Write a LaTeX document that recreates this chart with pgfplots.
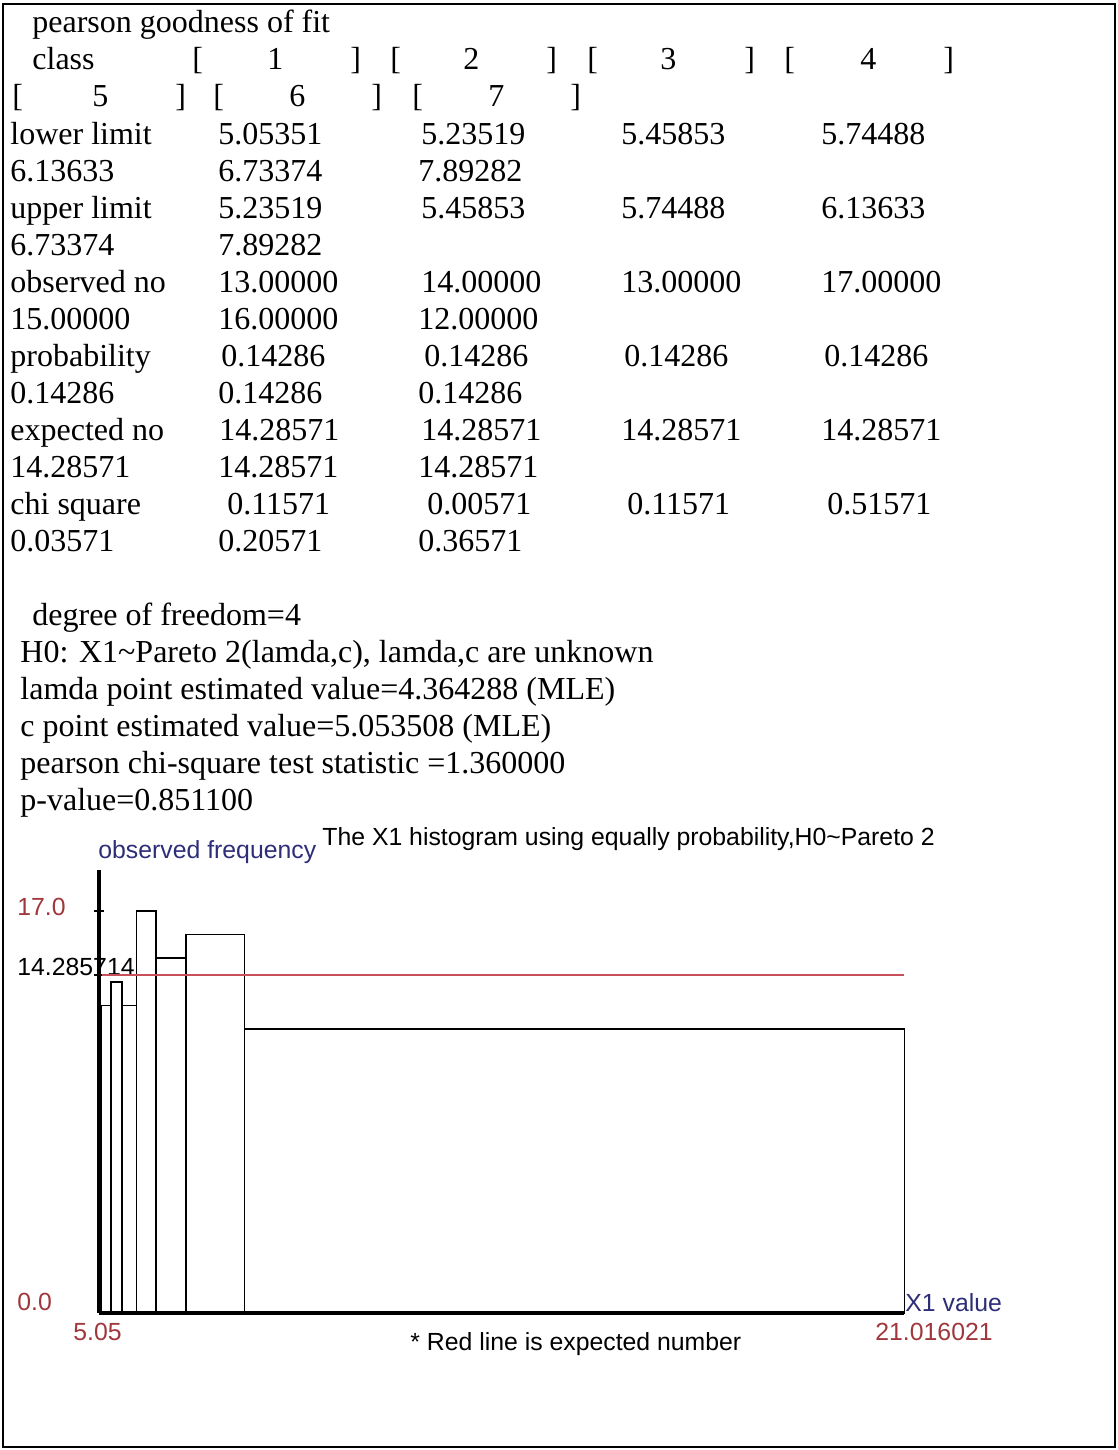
\documentclass[border=0pt]{standalone}
\usepackage{fontspec}
\setmainfont{Liberation Serif}
\newfontfamily\sansf{Liberation Sans}
\usepackage{pgfplots}
\pgfplotsset{compat=1.18}
\definecolor{navytxt}{RGB}{45,45,120}
\definecolor{darkredtxt}{RGB}{160,55,60}
\definecolor{expred}{RGB}{200,80,90}
\newcommand{\T}[3]{\node[anchor=base west, inner sep=0pt] at (#1,#2) {#3};}
\begin{document}
\begin{tikzpicture}
\begin{scope}[x=0.5pt,y=-0.5pt]
\path (0,0) rectangle (1118,1450);
\draw[line width=1.2pt] (3,4) rectangle (1115,1447);
\begin{scope}[font=\fontsize{16}{18}\selectfont]
\T{32}{33}{pearson goodness of fit}
\T{32}{70}{class}
\T{192}{70}{[}\T{267}{70}{1}\T{350}{70}{]}
\T{390}{70}{[}\T{463}{70}{2}\T{546}{70}{]}
\T{587}{70}{[}\T{660}{70}{3}\T{744}{70}{]}
\T{784}{70}{[}\T{860}{70}{4}\T{943}{70}{]}
\T{12}{107}{[}\T{92}{107}{5}\T{175}{107}{]}
\T{213}{107}{[}\T{289}{107}{6}\T{371}{107}{]}
\T{412}{107}{[}\T{488}{107}{7}\T{570}{107}{]}
\T{10}{144}{lower limit}
\T{218}{144}{5.05351}\T{421}{144}{5.23519}\T{621}{144}{5.45853}\T{821}{144}{5.74488}
\T{10}{181}{6.13633}\T{218}{181}{6.73374}\T{418}{181}{7.89282}
\T{10}{218}{upper limit}
\T{218}{218}{5.23519}\T{421}{218}{5.45853}\T{621}{218}{5.74488}\T{821}{218}{6.13633}
\T{10}{255}{6.73374}\T{218}{255}{7.89282}
\T{10}{292}{observed no}
\T{218}{292}{13.00000}\T{421}{292}{14.00000}\T{621}{292}{13.00000}\T{821}{292}{17.00000}
\T{10}{329}{15.00000}\T{218}{329}{16.00000}\T{418}{329}{12.00000}
\T{10}{366}{probability}
\T{221}{366}{0.14286}\T{424}{366}{0.14286}\T{624}{366}{0.14286}\T{824}{366}{0.14286}
\T{10}{403}{0.14286}\T{218}{403}{0.14286}\T{418}{403}{0.14286}
\T{10}{440}{expected no}
\T{219}{440}{14.28571}\T{421}{440}{14.28571}\T{621}{440}{14.28571}\T{821}{440}{14.28571}
\T{10}{477}{14.28571}\T{218}{477}{14.28571}\T{418}{477}{14.28571}
\T{10}{514}{chi square}
\T{227}{514}{0.11571}\T{427}{514}{0.00571}\T{627}{514}{0.11571}\T{827}{514}{0.51571}
\T{10}{551}{0.03571}\T{218}{551}{0.20571}\T{418}{551}{0.36571}
\T{32}{625}{degree of freedom=4}
\T{20}{662}{H0: X1\textasciitilde Pareto 2(lamda,c), lamda,c are unknown}
\T{20}{699}{lamda point estimated value=4.364288 (MLE)}
\T{20}{736}{c point estimated value=5.053508 (MLE)}
\T{20}{773}{pearson chi-square test statistic =1.360000}
\T{20}{810}{p-value=0.851100}
\end{scope}
\begin{scope}[font=\sansf\fontsize{12.4}{14}\selectfont]
\T{322}{845}{The X1 histogram using equally probability,H0\textasciitilde Pareto 2}
\T{98}{858}{\color{navytxt}observed frequency}
\T{17}{915.5}{\color{darkredtxt}17.0}
\T{17}{975.5}{14.285714}
\T{17}{1310.5}{\color{darkredtxt}0.0}
\T{73}{1340.5}{\color{darkredtxt}5.05}
\T{875}{1340.5}{\color{darkredtxt}21.016021}
\T{905}{1311.5}{\color{navytxt}X1 value}
\T{410}{1350}{* Red line is expected number}
\end{scope}
\end{scope}
\begin{axis}[
  at={(49.5pt,-656.5pt)}, anchor=south west,
  scale only axis, width=402.65pt, height=221.5pt,
  xmin=5.0, xmax=21.016021, ymin=0, ymax=18.73,
  axis x line=bottom, axis y line=left,
  axis line style={-, line width=1.6pt, black},
  xtick=\empty, ytick={14.285714,17}, yticklabels={{},{}},
  tick align=center, major tick length=5pt,
  tick style={black, line width=1pt},
  clip=false,
]
\addplot[ybar interval, draw=black, fill=none, line width=0.8pt] coordinates {
  (5.05351,13) (5.23519,14) (5.45853,13) (5.74488,17)
  (6.13633,15) (6.73374,16) (7.89282,12) (21.016021,12)
};
\addplot[expred, line width=1pt] coordinates {(5.06,14.285714) (21.016021,14.285714)};
\end{axis}
\end{tikzpicture}
\end{document}
